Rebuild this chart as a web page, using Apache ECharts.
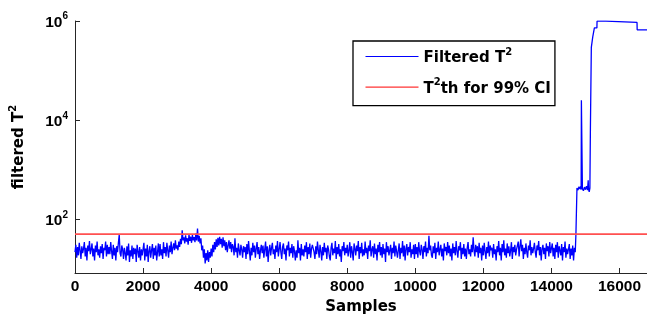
<!DOCTYPE html>
<html>
<head>
<meta charset="utf-8">
<script src="https://cdn.jsdelivr.net/npm/echarts@6/dist/echarts.min.js"></script>
<style>
  html, body { margin: 0; padding: 0; background: #fff; }
  #chart { width: 647px; height: 322px; }
</style>
</head>
<body>
<div id="chart"></div>
<script>
// T2 before the fault, one reading every 25 samples starting at 0
const sampleStep = 25
const normalT2 = [
  22, 31, 17, 28, 19, 34, 24, 16, 29, 21, 26, 35, 18, 27, 15, 30, 23, 37, 20, 25,
  33, 18, 26, 15, 30, 22, 36, 19, 25, 17, 29, 21, 32, 16, 27, 24, 36, 18, 31, 20,
  28, 20, 35, 23, 16, 31, 19, 27, 15, 29, 22, 34, 50, 21, 18, 30, 25, 16, 27, 21,
  15, 29, 19, 33, 14, 24, 18, 30, 16, 27, 20, 26, 14, 31, 23, 17, 28, 15, 25, 19,
  20, 34, 15, 26, 18, 31, 14, 23, 29, 17, 24, 32, 16, 27, 19, 30, 15, 22, 33, 18,
  32, 19, 25, 16, 35, 21, 28, 18, 34, 24, 17, 30, 22, 36, 20, 27, 33, 24, 38, 26,
  30, 24, 36, 28, 41, 32, 61, 38, 44, 33, 48, 36, 42, 31, 50, 37, 45, 34, 49, 38,
  44, 35, 52, 38, 66, 36, 47, 33, 42, 24, 30, 17, 25, 13, 21, 15, 24, 14, 22, 17,
  26, 18, 31, 22, 35, 25, 40, 28, 43, 30, 45, 32, 41, 27, 44, 29, 38, 24, 35, 22,
  30, 38, 26, 35, 22, 32, 28, 19, 42, 22, 27, 17, 33, 24, 19, 31, 25, 17, 29, 22,
  28, 16, 32, 20, 37, 23, 15, 27, 19, 34, 22, 30, 17, 26, 35, 20, 28, 16, 24, 31,
  21, 30, 17, 25, 36, 18, 29, 14, 24, 31, 19, 27, 34, 20, 25, 16, 30, 22, 37, 18,
  19, 35, 22, 16, 28, 33, 20, 26, 15, 30, 24, 36, 18, 27, 21, 32, 17, 29, 23, 15,
  24, 17, 38, 21, 27, 15, 32, 19, 25, 18, 30, 22, 35, 16, 28, 20, 33, 17, 26, 31,
  33, 22, 16, 29, 20, 36, 24, 17, 31, 23, 15, 28, 19, 34, 22, 27, 16, 30, 25, 18,
  15, 27, 34, 19, 26, 21, 37, 16, 28, 20, 32, 18, 25, 14, 29, 23, 35, 19, 27, 21,
  31, 18, 24, 35, 17, 29, 22, 15, 33, 26, 19, 30, 23, 37, 16, 28, 21, 34, 18, 25,
  19, 36, 21, 27, 16, 30, 23, 38, 18, 25, 29, 17, 33, 20, 26, 15, 31, 22, 35, 19,
  28, 17, 32, 20, 26, 14, 35, 22, 29, 19, 24, 31, 16, 27, 21, 36, 18, 30, 23, 17,
  24, 33, 16, 27, 21, 37, 18, 30, 15, 26, 32, 19, 28, 22, 35, 17, 25, 20, 31, 16,
  32, 20, 28, 17, 35, 23, 19, 31, 25, 16, 29, 22, 36, 18, 27, 21, 47, 24, 30, 19,
  17, 29, 21, 34, 16, 27, 22, 36, 19, 25, 31, 18, 26, 15, 33, 23, 28, 19, 35, 21,
  30, 18, 26, 15, 33, 21, 28, 19, 37, 23, 17, 29, 24, 35, 16, 27, 20, 32, 18, 26,
  16, 27, 35, 20, 25, 18, 31, 22, 44, 24, 18, 31, 22, 29, 17, 34, 21, 27, 15, 30,
  19, 34, 23, 16, 28, 21, 36, 18, 30, 24, 27, 17, 32, 20, 25, 15, 29, 22, 37, 19,
  27, 15, 32, 22, 38, 19, 26, 17, 33, 21, 29, 18, 24, 35, 16, 28, 22, 31, 19, 25,
  25, 36, 18, 29, 40, 23, 31, 16, 27, 20, 33, 22, 17, 30, 24, 38, 19, 28, 21, 26,
  34, 22, 17, 30, 24, 37, 19, 28, 15, 26, 31, 20, 27, 16, 33, 23, 29, 18, 35, 21,
  21, 33, 18, 27, 16, 31, 22, 35, 17, 29, 24, 19, 32, 15, 28, 22, 36, 17, 26, 20,
  20, 32, 16, 26, 19, 30, 15, 27, 22,
]

// after the fault the readings are listed sample by sample
const faultSamples = [
  14720, 14750, 14780, 14810, 14840, 14865, 14873, 14880, 14910, 14940,
  14970, 15000, 15030, 15060, 15080, 15090, 15110, 15130, 15145, 15172,
  15210, 15214, 15258, 15262, 15336, 15340, 15600, 15604, 16515, 16519, 16808,
]
const faultT2 = [
  52, 430, 390, 460, 410, 470, 400, 25400, 420, 380,
  450, 400, 470, 390, 620, 410, 360, 430, 6900, 294000,
  294000, 477000, 477000, 725000, 725000, 990000, 990000, 935000, 935000, 665000, 665000,
]

const thresholdT2 = 51
const xMax = 16808
const yMin = 8.37
const yMax = 1000000
const xTicks = [0, 2000, 4000, 6000, 8000, 10000, 12000, 14000, 16000]
const yTicks = [100, 10000, 1000000]

const tickFont = "'Liberation Sans', Arial, sans-serif"
const nameFont = "'DejaVu Sans', Verdana, sans-serif"

const t2Points = normalT2.map((v, i) => [i * sampleStep, v])
  .concat(faultSamples.map((s, i) => [s, faultT2[i]]))

function supStyles(family, size) {
  return {
    b: { fontSize: size, fontWeight: 'bold', fontFamily: family, color: '#000', lineHeight: 19, verticalAlign: 'bottom' },
    s: { fontSize: 10, fontWeight: 'bold', fontFamily: family, color: '#000', lineHeight: 10, verticalAlign: 'top' },
  }
}

const chart = echarts.init(document.getElementById('chart'), null, { renderer: 'canvas' })
chart.setOption({
  animation: false,
  backgroundColor: '#fff',
  grid: { left: 71, right: 0, top: 21, bottom: 49, containLabel: false },
  legend: {
    left: 353,
    top: 41,
    orient: 'vertical',
    itemWidth: 53,
    itemHeight: 14,
    itemGap: 11.6,
    padding: [6, 4, 9, 12],
    borderColor: '#000',
    borderWidth: 1.3,
    backgroundColor: '#fff',
    lineStyle: { width: 1 },
    itemStyle: { opacity: 0 },
    formatter: (name) => name === 'Filtered T2' ? '{b|Filtered T}{s|2}' : '{b|T}{s|2}{b|th for 99% CI}',
    textStyle: { rich: supStyles(nameFont, 15) },
    data: [
      { name: 'Filtered T2', lineStyle: { color: '#0000ff', width: 1 } },
      { name: 'T2th', lineStyle: { color: '#ff0000', width: 1 } },
    ],
  },
  xAxis: {
    type: 'value',
    min: 0,
    max: xMax,
    name: 'Samples',
    nameLocation: 'middle',
    nameGap: 27,
    nameTextStyle: { fontSize: 15, fontWeight: 'bold', fontFamily: nameFont, color: '#000' },
    axisLine: { lineStyle: { color: '#262626', width: 1 } },
    axisTick: { inside: true, length: 5, customValues: xTicks, lineStyle: { color: '#262626' } },
    axisLabel: {
      customValues: xTicks,
      margin: 6,
      fontSize: 15.5,
      fontWeight: 'bold',
      fontFamily: tickFont,
      color: '#000',
      formatter: (v) => String(v),
    },
    splitLine: { show: false },
  },
  yAxis: {
    type: 'log',
    logBase: 10,
    min: yMin,
    max: yMax,
    name: '{b|filtered T}{s|2}',
    nameLocation: 'middle',
    nameGap: 48,
    nameTextStyle: { rich: supStyles(nameFont, 15) },
    axisLine: { show: true, lineStyle: { color: '#262626', width: 1 } },
    axisTick: { inside: true, length: 5, customValues: yTicks, lineStyle: { color: '#262626' } },
    axisLabel: {
      customValues: yTicks,
      margin: 7,
      formatter: (v) => '{b|10}{s|' + Math.round(Math.log10(v)) + '}',
      rich: supStyles(tickFont, 15.5),
    },
    splitLine: { show: false },
  },
  series: [
    {
      name: 'Filtered T2',
      type: 'line',
      data: t2Points,
      symbol: 'none',
      lineStyle: { color: '#0000ff', width: 1.3 },
      itemStyle: { color: '#0000ff' },
    },
    {
      name: 'T2th',
      type: 'line',
      data: [[0, thresholdT2], [xMax, thresholdT2]],
      symbol: 'none',
      lineStyle: { color: '#ff5050', width: 1.8 },
      itemStyle: { color: '#ff0000' },
    },
  ],
})
</script>
</body>
</html>
